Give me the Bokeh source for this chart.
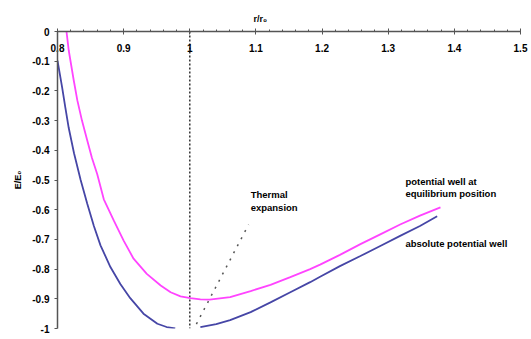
from bokeh.plotting import figure
from bokeh.models import Range1d, FixedTicker, Label, Title
from bokeh.embed import file_html
from bokeh.resources import INLINE

# ---- data ----
abs_x = [0.800, 0.807, 0.812, 0.817, 0.825, 0.835, 0.845, 0.855, 0.865, 0.880,
         0.895, 0.910, 0.930, 0.951, 0.965, 0.978, float("nan"),
         1.016, 1.040, 1.061, 1.092, 1.122, 1.152, 1.182, 1.197, 1.227, 1.258,
         1.288, 1.318, 1.348, 1.374]
abs_y = [-0.098, -0.188, -0.258, -0.325, -0.41, -0.50, -0.58, -0.655, -0.72, -0.793,
         -0.85, -0.898, -0.950, -0.984, -0.995, -1.0, float("nan"),
         -0.995, -0.985, -0.972, -0.945, -0.912, -0.878, -0.844, -0.826, -0.790, -0.756,
         -0.722, -0.688, -0.655, -0.622]

eq_x = [0.8136, 0.817, 0.8246, 0.830, 0.837, 0.845, 0.852, 0.860, 0.870, 0.885,
        0.900, 0.915, 0.935, 0.956, 0.971, 0.986, 1.001, 1.016, 1.030, 1.061,
        1.092, 1.122, 1.152, 1.182, 1.197, 1.227, 1.258, 1.288, 1.318, 1.348, 1.379]
eq_y = [0.0, -0.064, -0.165, -0.232, -0.30, -0.367, -0.425, -0.48, -0.565, -0.636,
        -0.704, -0.765, -0.816, -0.855, -0.878, -0.892, -0.898, -0.902, -0.903, -0.894,
        -0.874, -0.853, -0.827, -0.800, -0.785, -0.752, -0.716, -0.683, -0.650, -0.620, -0.592]

ref_x = [1.0, 1.0]
ref_y = [0.0, -1.0]

thermal_x = [1.010, 1.089]
thermal_y = [-0.985, -0.65]

x_ticks = [0.8, 0.9, 1.0, 1.1, 1.2, 1.3, 1.4, 1.5]
x_tick_labels = ["0.8", "0.9", "1", "1.1", "1.2", "1.3", "1.4", "1.5"]
x_minor = [round(0.8 + 0.02 * i, 2) for i in range(36)]
y_ticks = [0.0, -0.1, -0.2, -0.3, -0.4, -0.5, -0.6, -0.7, -0.8, -0.9, -1.0]
y_tick_labels = ["0", "-0.1", "-0.2", "-0.3", "-0.4", "-0.5", "-0.6", "-0.7", "-0.8", "-0.9", "-1"]

FONT = "Liberation Sans"

p = figure(width=531, height=339, output_backend="svg", toolbar_location=None,
           x_axis_location="above",
           x_range=Range1d(0.8, 1.5), y_range=Range1d(-1.0, 0.0),
           min_border_left=57, min_border_right=11, min_border_top=31, min_border_bottom=11)
p.outline_line_color = None
p.grid.visible = False
p.background_fill_color = "white"

# x axis (top, at y = 0), labels drawn under the line
xa = p.xaxis[0]
xa.ticker = FixedTicker(ticks=x_ticks, minor_ticks=x_minor)
xa.major_label_overrides = {t: l for t, l in zip(x_ticks, x_tick_labels)}
xa.axis_line_color = "#555555"
xa.axis_line_width = 1.5
xa.major_tick_line_color = "#555555"
xa.major_tick_in = 3
xa.major_tick_out = 3
xa.minor_tick_line_color = "#555555"
xa.minor_tick_in = 0
xa.minor_tick_out = 2
xa.major_label_standoff = -23
xa.major_label_text_font = FONT
xa.major_label_text_font_style = "bold"
xa.major_label_text_font_size = "10px"
xa.major_label_text_color = "black"

# x-axis title, above the axis line
p.add_layout(Title(text="r/r₀", align="left", offset=196, standoff=15,
                   text_font=FONT, text_font_style="bold", text_font_size="9px",
                   text_color="black"), "above")

# y axis (left)
ya = p.yaxis[0]
ya.ticker = FixedTicker(ticks=y_ticks, minor_ticks=[])
ya.major_label_overrides = {t: l for t, l in zip(y_ticks, y_tick_labels)}
ya.axis_line_color = "#555555"
ya.axis_line_width = 1.5
ya.major_tick_line_color = "#555555"
ya.major_tick_in = 0
ya.major_tick_out = 3
ya.major_label_standoff = 5
ya.major_label_text_font = FONT
ya.major_label_text_font_style = "bold"
ya.major_label_text_font_size = "10px"
ya.major_label_text_color = "black"
ya.axis_label = "E/E₀"
ya.axis_label_text_font = FONT
ya.axis_label_text_font_style = "bold"
ya.axis_label_text_font_size = "9px"
ya.axis_label_text_color = "black"
ya.axis_label_standoff = 6

# reference line at r = r0
p.line(ref_x, ref_y, line_color="#333333", line_width=1.5, line_dash="2 2")
# thermal expansion
p.line(thermal_x, thermal_y, line_color="#555555", line_width=1.5, line_dash="2 6")

# curves
p.line(eq_x, eq_y, line_color="#ff44ff", line_width=1.8)
p.line(abs_x, abs_y, line_color="#4646a6", line_width=1.8)

def add_label(x, y, text):
    p.add_layout(Label(x=x, y=y, text=text, text_font=FONT, text_font_style="bold",
                       text_font_size="9.5px", text_color="black", text_baseline="top",
                       text_line_height=1.15))

add_label(1.092, -0.53, "Thermal\nexpansion")
add_label(1.326, -0.485, "potential well at\nequilibrium position")
add_label(1.326, -0.695, "absolute potential well")

open("out.html", "w").write(file_html(p, INLINE))
